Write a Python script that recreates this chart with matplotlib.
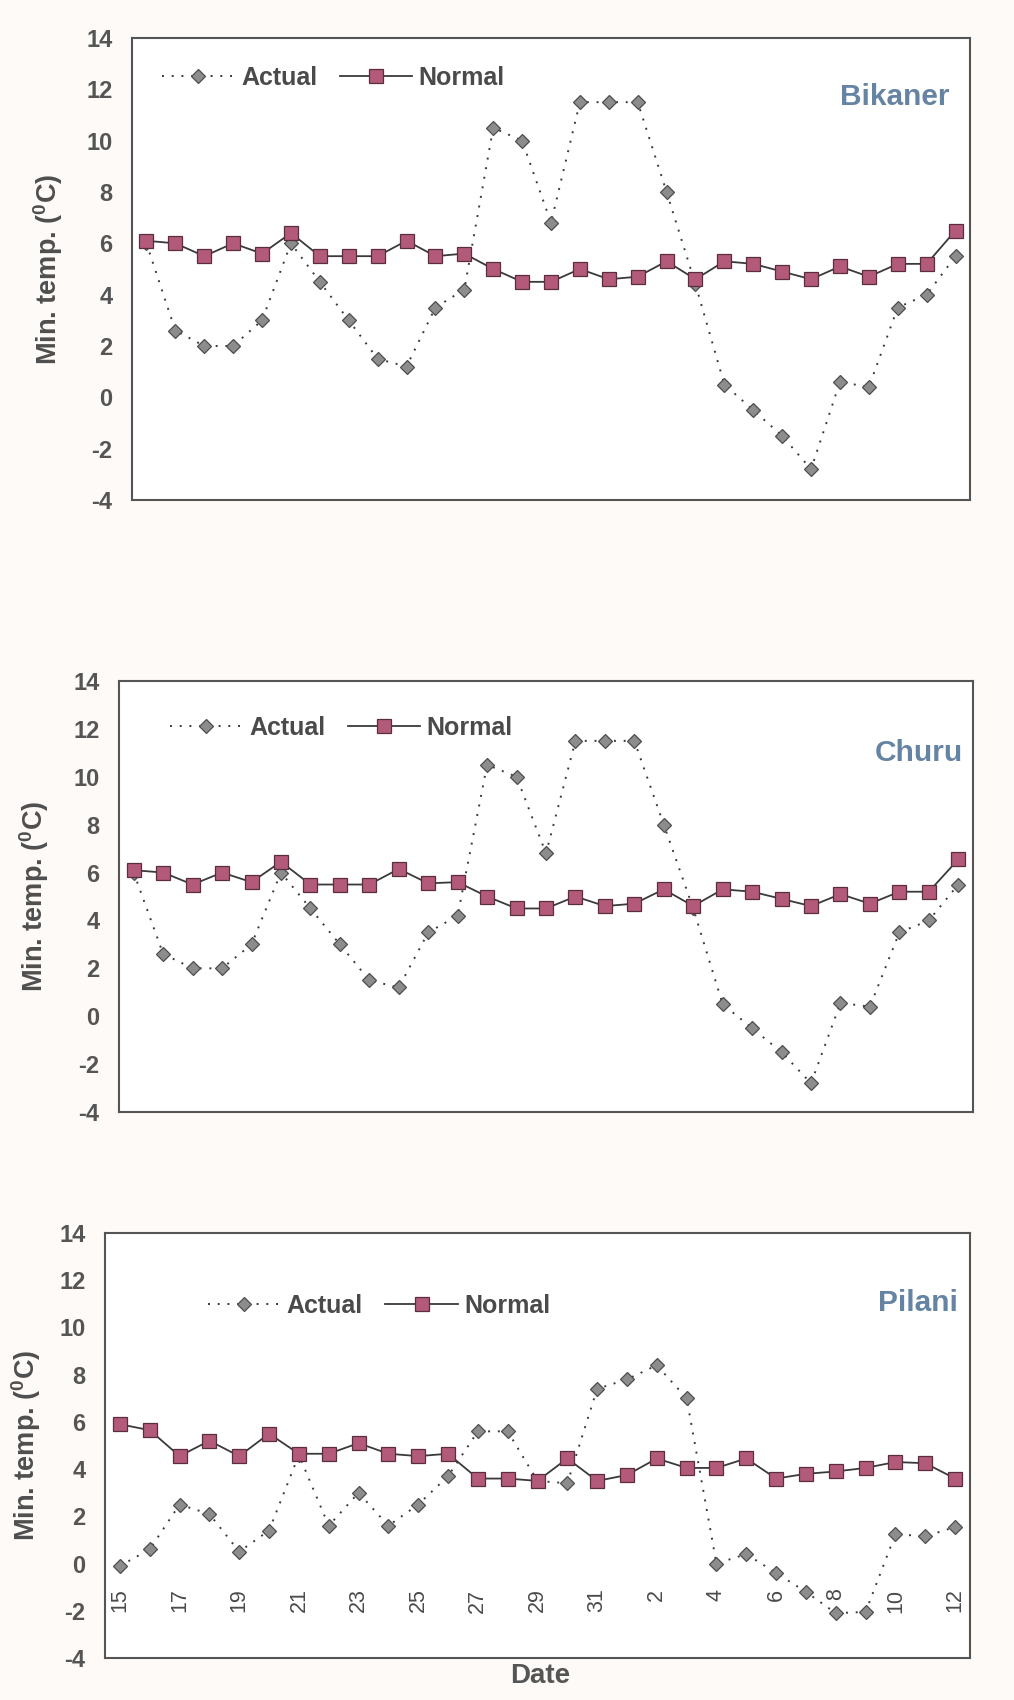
import matplotlib
matplotlib.use("Agg")
import matplotlib.pyplot as plt

plt.rcParams['font.family'] = ['Liberation Sans', 'DejaVu Sans']
plt.rcParams['mathtext.fontset'] = 'custom'
plt.rcParams['mathtext.bf'] = 'Liberation Sans:bold'
plt.rcParams['mathtext.rm'] = 'Liberation Sans:bold'

# Dates: 15 Dec .. 31 Dec, 1 Jan .. 12 Jan
dates = [str(d) for d in range(15, 32)] + [str(d) for d in range(1, 13)]
x = list(range(len(dates)))

bikaner_actual = [6.0, 2.6, 2.0, 2.0, 3.0, 6.0, 4.5, 3.0, 1.5, 1.2, 3.5, 4.2, 10.5, 10.0,
                  6.8, 11.5, 11.5, 11.5, 8.0, 4.4, 0.5, -0.5, -1.5, -2.8, 0.6, 0.4, 3.5, 4.0, 5.5]
bikaner_normal = [6.1, 6.0, 5.5, 6.0, 5.6, 6.4, 5.5, 5.5, 5.5, 6.1, 5.5, 5.6, 5.0, 4.5,
                  4.5, 5.0, 4.6, 4.7, 5.3, 4.6, 5.3, 5.2, 4.9, 4.6, 5.1, 4.7, 5.2, 5.2, 6.5]

churu_actual = [6.0, 2.6, 2.0, 2.0, 3.0, 6.0, 4.5, 3.0, 1.5, 1.2, 3.5, 4.2, 10.5, 10.0,
                6.8, 11.5, 11.5, 11.5, 8.0, 4.5, 0.5, -0.5, -1.5, -2.8, 0.55, 0.4, 3.5, 4.0, 5.5]
churu_normal = [6.1, 6.0, 5.5, 6.0, 5.6, 6.45, 5.5, 5.5, 5.5, 6.15, 5.55, 5.6, 5.0, 4.5,
                4.5, 5.0, 4.6, 4.7, 5.3, 4.6, 5.3, 5.2, 4.9, 4.6, 5.1, 4.7, 5.2, 5.2, 6.55]

pilani_actual = [-0.1, 0.6, 2.5, 2.1, 0.5, 1.4, 4.6, 1.6, 3.0, 1.6, 2.5, 3.7, 5.6, 5.6,
                 3.5, 3.4, 7.4, 7.8, 8.4, 7.0, 0.0, 0.4, -0.4, -1.2, -2.1, -2.05, 1.25, 1.15, 1.55]
pilani_normal = [5.9, 5.65, 4.55, 5.2, 4.55, 5.5, 4.65, 4.65, 5.1, 4.65, 4.55, 4.65, 3.6, 3.6,
                 3.5, 4.45, 3.5, 3.75, 4.45, 4.05, 4.05, 4.45, 3.6, 3.8, 3.9, 4.05, 4.3, 4.25, 3.6]

stations = ["Bikaner", "Churu", "Pilani"]
yticks = [-4, -2, 0, 2, 4, 6, 8, 10, 12, 14]

W, H = 1014, 1700
fig = plt.figure(figsize=(W / 100, H / 100), dpi=100)
fig.patch.set_facecolor('#fdfaf7')

# axes boxes in pixels: left, top, right, bottom
boxes = [(132, 38, 970, 500), (119, 681, 973, 1112), (105, 1233, 970, 1658)]
legend_pos = [(0.036, 0.913), (0.060, 0.891), (0.119, 0.828)]
name_pos = [(0.976, 0.872), (0.988, 0.833), (0.986, 0.835)]
ylabel_x = [-0.100, -0.0995, -0.091]

series = [(bikaner_actual, bikaner_normal), (churu_actual, churu_normal),
          (pilani_actual, pilani_normal)]

txt_col = '#4a4a4a'
act_col = '#8c8c8c'
act_edge = '#4d4d4d'
nor_col = '#b35a7a'
nor_edge = '#5a2e3e'
name_col = '#6584a3'

for i, (l, t, r, b) in enumerate(boxes):
    ax = fig.add_axes([l / W, 1 - b / H, (r - l) / W, (b - t) / H])
    ax.set_facecolor('white')
    act, nor = series[i]
    ax.plot(x, act, linestyle=(0, (1, 4)), color='#3a3a3a', linewidth=1.4,
            marker='D', markersize=7, markerfacecolor=act_col,
            markeredgecolor=act_edge, markeredgewidth=0.9, label='Actual', zorder=3)
    ax.plot(x, nor, linestyle='-', color='#3a3a3a', linewidth=1.3,
            marker='s', markersize=10.5, markerfacecolor=nor_col,
            markeredgecolor=nor_edge, markeredgewidth=0.9, label='Normal', zorder=4)
    ax.set_xlim(-0.5, len(dates) - 0.5)
    ax.set_ylim(-4, 14)
    ax.set_yticks(yticks)
    ax.set_yticklabels([str(v) for v in yticks], fontsize=17, fontweight='bold',
                       color='#555555')
    ax.tick_params(axis='y', length=0, pad=14)
    for s in ax.spines.values():
        s.set_color('#555555')
        s.set_linewidth(1.5)
    if i < 2:
        ax.set_xticks([])
    else:
        ax.set_xticks(x[::2])
        ax.set_xticklabels(dates[::2], rotation=90, fontsize=15.5, color=txt_col)
        ax.tick_params(axis='x', length=0, pad=-50)
        ax.set_xlabel('Date', fontsize=20, fontweight='bold', color='#555555')
        ax.xaxis.set_label_coords(0.503, -0.012)
    ax.text(ylabel_x[i], 0.5, r'Min. temp. ($\mathbf{^0}$C)', transform=ax.transAxes,
            rotation=90, ha='center', va='center', fontsize=19.5, fontweight='bold',
            color='#4f4f4f')
    leg = ax.legend(loc='center left', bbox_to_anchor=legend_pos[i], ncol=2,
                    frameon=False, fontsize=18, handlelength=2.9, handletextpad=0.25,
                    columnspacing=0.9, borderpad=0, borderaxespad=0)
    for txt in leg.get_texts():
        txt.set_fontweight('bold')
        txt.set_color(txt_col)
    ax.text(name_pos[i][0], name_pos[i][1], stations[i], transform=ax.transAxes,
            ha='right', va='center', fontsize=21.5, fontweight='bold', color=name_col)

fig.savefig('out.png', dpi=100, facecolor=fig.get_facecolor())
